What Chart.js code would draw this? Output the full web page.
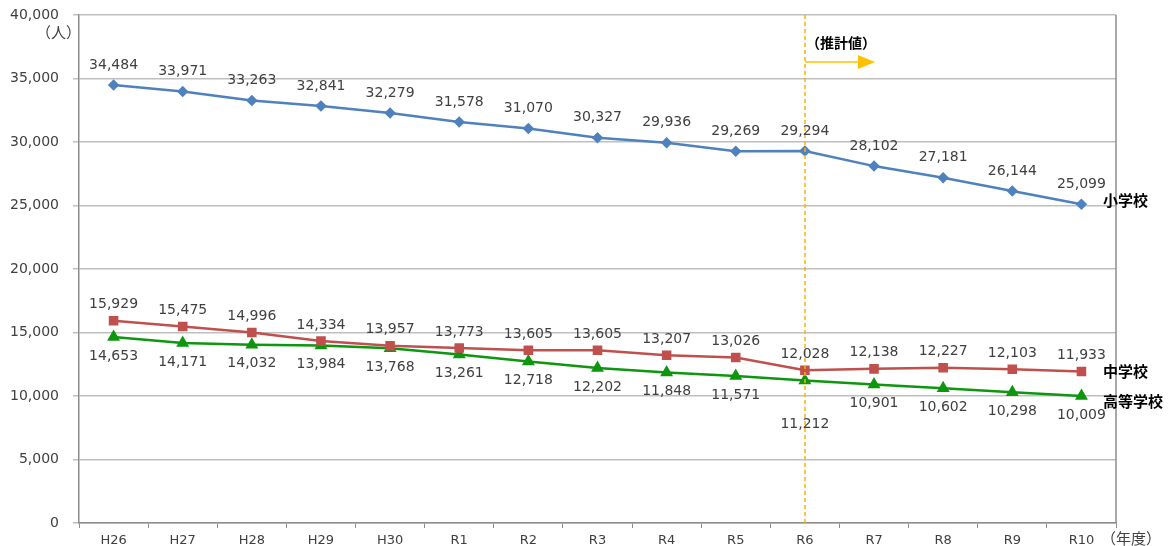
<!DOCTYPE html>
<html>
<head>
<meta charset="utf-8">
<script src="https://cdn.jsdelivr.net/npm/chart.js@4/dist/chart.umd.min.js"></script>
<style>
  html, body { margin: 0; padding: 0; background: #fff; }
  #wrap { width: 1171px; height: 546px; }
</style>
</head>
<body>
<div id="wrap"><canvas id="chart"></canvas></div>
<script>
// data
const years = ['H26', 'H27', 'H28', 'H29', 'H30', 'R1', 'R2', 'R3', 'R4', 'R5', 'R6', 'R7', 'R8', 'R9', 'R10'];
const elementary = [34484, 33971, 33263, 32841, 32279, 31578, 31070, 30327, 29936, 29269, 29294, 28102, 27181, 26144, 25099];
const juniorHigh = [15929, 15475, 14996, 14334, 13957, 13773, 13605, 13605, 13207, 13026, 12028, 12138, 12227, 12103, 11933];
const highSchool = [14653, 14171, 14032, 13984, 13768, 13261, 12718, 12202, 11848, 11571, 11212, 10901, 10602, 10298, 10009];
const seriesNames = ['小学校', '中学校', '高等学校'];
const estimateFrom = 10; // R6

const numFont = '"DejaVu Sans", Verdana, sans-serif';
const jpFont = '"Noto Sans CJK JP", sans-serif';

const fmt = v => v.toLocaleString('en-US');

const overlay = {
    id: 'overlay',
    afterDatasetsDraw(chart) {
        const ctx = chart.ctx;
        const area = chart.chartArea;
        const x = chart.scales.x;

        // right frame line
        ctx.save();
        ctx.strokeStyle = '#8c8c8c';
        ctx.lineWidth = 1.5;
        ctx.beginPath();
        ctx.moveTo(area.right, area.top);
        ctx.lineTo(area.right, area.bottom);
        ctx.stroke();

        // estimate marker
        const ex = Math.round(x.getPixelForValue(estimateFrom));
        ctx.strokeStyle = '#F7B500';
        ctx.lineWidth = 1.5;
        ctx.setLineDash([4, 3]);
        ctx.beginPath();
        ctx.moveTo(ex, area.top);
        ctx.lineTo(ex, area.bottom);
        ctx.stroke();
        ctx.setLineDash([]);

        const ay = area.top + 47;
        ctx.strokeStyle = '#FFC000';
        ctx.beginPath();
        ctx.moveTo(ex, ay);
        ctx.lineTo(ex + 54, ay);
        ctx.stroke();
        ctx.fillStyle = '#FFC000';
        ctx.beginPath();
        ctx.moveTo(ex + 53, ay - 7);
        ctx.lineTo(ex + 70, ay);
        ctx.lineTo(ex + 53, ay + 7);
        ctx.closePath();
        ctx.fill();

        ctx.fillStyle = '#000';
        ctx.font = 'bold 14px ' + jpFont;
        ctx.textAlign = 'left';
        ctx.textBaseline = 'middle';
        ctx.fillText('（推計値）', ex + 1, area.top + 28);

        // data labels
        ctx.font = '14px ' + numFont;
        ctx.fillStyle = '#404040';
        ctx.textAlign = 'center';
        const offsets = [-20, -16, 19];
        chart.data.datasets.forEach((ds, di) => {
            const meta = chart.getDatasetMeta(di);
            meta.data.forEach((pt, i) => {
                let dy = offsets[di];
                if (di === 2 && i === estimateFrom) dy = 44;
                ctx.fillText(fmt(ds.data[i]), pt.x, pt.y + dy);
            });
        });

        // series names at line ends
        ctx.font = 'bold 15px ' + jpFont;
        ctx.fillStyle = '#000';
        ctx.textAlign = 'left';
        const nameY = [200, 371, 401];
        seriesNames.forEach((n, i) => ctx.fillText(n, area.right - 13, nameY[i]));

        // axis units
        ctx.font = '15px ' + jpFont;
        ctx.fillStyle = '#404040';
        ctx.fillText('（人）', 36, 32);
        ctx.fillText('（年度）', 1101, 538);
        ctx.restore();
    }
};

new Chart(document.getElementById('chart'), {
    type: 'line',
    data: {
        labels: years,
        datasets: [{
            label: seriesNames[0],
            data: elementary,
            borderColor: '#4F81BD',
            backgroundColor: '#4F81BD',
            borderWidth: 2.5,
            pointStyle: 'rectRot',
            pointRadius: 4,
            tension: 0
        }, {
            label: seriesNames[1],
            data: juniorHigh,
            borderColor: '#C0504D',
            backgroundColor: '#C0504D',
            borderWidth: 2.5,
            pointStyle: 'rect',
            pointRadius: 5,
            tension: 0
        }, {
            label: seriesNames[2],
            data: highSchool,
            borderColor: '#0E960E',
            backgroundColor: '#0E960E',
            borderWidth: 2.5,
            pointStyle: 'triangle',
            pointRadius: 5,
            tension: 0
        }]
    },
    options: {
        responsive: true,
        maintainAspectRatio: false,
        animation: false,
        layout: { padding: { top: 15, right: 55, left: 0, bottom: 0 } },
        plugins: {
            legend: { display: false },
            tooltip: { enabled: false }
        },
        scales: {
            x: {
                offset: true,
                grid: {
                    offset: true,
                    drawOnChartArea: false,
                    tickLength: 5,
                    color: '#8c8c8c'
                },
                border: { color: '#8c8c8c', width: 1.5 },
                ticks: {
                    color: '#404040',
                    font: { family: numFont, size: 13 },
                    padding: 5,
                    maxRotation: 0
                },
                afterFit(scale) { scale.height = 23; }
            },
            y: {
                min: 0,
                max: 40000,
                grid: {
                    color: '#bfbfbf',
                    lineWidth: 1.5,
                    tickLength: 6
                },
                border: { color: '#8c8c8c', width: 1.5 },
                ticks: {
                    stepSize: 5000,
                    color: '#404040',
                    font: { family: numFont, size: 14 },
                    padding: 14,
                    callback: v => fmt(v)
                },
                afterFit(scale) {
                    scale.width = 79;
                    scale.paddingTop = 0;
                    scale.paddingBottom = 0;
                }
            }
        }
    },
    plugins: [overlay]
});
</script>
</body>
</html>
